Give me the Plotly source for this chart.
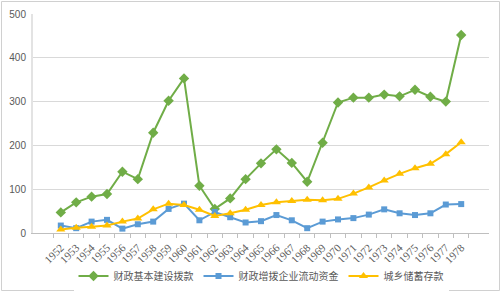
import plotly.graph_objects as go

years = [str(y) for y in range(1952, 1979)]
capital_construction = [47, 70, 83, 89, 140, 123, 229, 302, 353, 108, 55, 79, 123,
                        159, 191, 160, 117, 206, 298, 309, 309, 316, 312, 327, 311, 300, 452]
working_capital = [17, 11, 26, 30, 10, 20, 26, 55, 67, 29, 48, 36, 24,
                   27, 41, 29, 11, 26, 31, 34, 42, 54, 45, 41, 45, 65, 66]
savings = [8, 12, 14, 17, 26, 33, 54, 67, 64, 53, 39, 45, 53,
           64, 70, 73, 76, 75, 78, 90, 104, 120, 135, 148, 158, 180, 207]

names = ["财政基本建设拨款", "财政增拨企业流动资金", "城乡储蓄存款"]

fig = go.Figure()
fig.add_trace(go.Scatter(x=years, y=capital_construction, name=names[0], mode="lines+markers",
                         line=dict(color="#70AD47", width=2),
                         marker=dict(symbol="diamond", size=8, color="#70AD47")))
fig.add_trace(go.Scatter(x=years, y=working_capital, name=names[1], mode="lines+markers",
                         line=dict(color="#5B9BD5", width=2),
                         marker=dict(symbol="square", size=6, color="#5B9BD5")))
fig.add_trace(go.Scatter(x=years, y=savings, name=names[2], mode="lines+markers",
                         line=dict(color="#FFC000", width=2),
                         marker=dict(symbol="triangle-up", size=8, color="#FFC000")))

L, R, T, B = 33, 12, 14, 60
W, H = 501, 293
pw, ph = W - L - R, H - T - B

def px_x(p):
    return (p - L) / pw

def px_y(p):
    return (H - B - p) / ph

fig.update_layout(
    width=W, height=H,
    margin=dict(l=L, r=R, t=T, b=B, autoexpand=False),
    paper_bgcolor="white", plot_bgcolor="white",
    showlegend=True,
    legend=dict(orientation="h", x=0.5, xanchor="center",
                yref="container", y=(H - 276) / H, yanchor="middle",
                font=dict(family="Noto Sans CJK SC", size=10, color="#595959"),
                itemwidth=30, tracegroupgap=0),
    xaxis=dict(type="category", tickson="boundaries", ticks="outside", ticklen=4,
               tickcolor="#BFBFBF", showline=True, linecolor="#BFBFBF", linewidth=1,
               showgrid=False, tickangle=-45, automargin=False, ticklabelstandoff=3,
               tickfont=dict(family="Liberation Serif", size=11, color="#595959")),
    yaxis=dict(range=[0, 500], dtick=100, showgrid=True, gridcolor="#D9D9D9", gridwidth=1,
               zeroline=False, showline=True, linecolor="#E3E3E3", linewidth=2,
               ticks="", automargin=False, ticklabelstandoff=3,
               tickfont=dict(family="Liberation Sans", size=10, color="#595959")),
    shapes=[dict(type="rect", xref="paper", yref="paper",
                 x0=px_x(1.5), x1=px_x(499.5), y0=px_y(290.5), y1=px_y(1.5),
                 line=dict(color="#D0D0D0", width=1), fillcolor="rgba(0,0,0,0)", layer="below")],
)

fig.write_html("out.html")
